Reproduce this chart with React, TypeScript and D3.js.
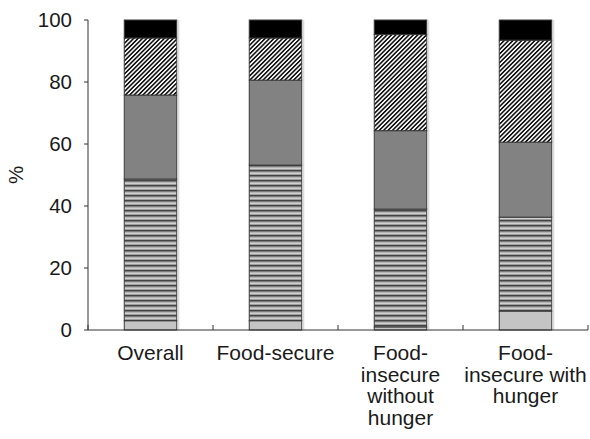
import React from 'react'
import * as d3 from 'd3'

const categories = ['Overall', 'Food-secure', 'Food-insecure without hunger', 'Food-insecure with hunger']
const categoryLines = [['Overall'], ['Food-secure'], ['Food-', 'insecure', 'without', 'hunger'], ['Food-', 'insecure with', 'hunger']]

// segments from bottom to top, in %
const seriesKeys = ['s1', 's2', 's3', 's4', 's5']
const s1 = [3.0, 3.0, 1.0, 6.1]
const s2 = [45.7, 50.2, 38.0, 30.3]
const s3 = [27.1, 27.4, 25.3, 24.2]
const s4 = [18.4, 13.6, 31.0, 32.9]
const s5 = [5.8, 5.8, 4.7, 6.5]
const yTicks = [0, 20, 40, 60, 80, 100]

const fills: Record<string, string> = {
  s1: '#c4c4c4',
  s2: 'url(#hstripes)',
  s3: '#828282',
  s4: 'url(#hatch)',
  s5: '#000000',
}

export default function App() {
  const width = 590
  const height = 439
  const margin = { top: 20, right: 2, bottom: 109, left: 88 }

  const rows = categories.map((c, i) => ({
    cat: c,
    s1: s1[i], s2: s2[i], s3: s3[i], s4: s4[i], s5: s5[i],
  }))
  const stacked = d3.stack<any>().keys(seriesKeys)(rows)

  const x = d3.scaleBand().domain(categories).range([margin.left, width - margin.right]).padding(0)
  const y = d3.scaleLinear().domain([0, 100]).range([height - margin.bottom, margin.top])
  const barW = x.step() * 0.42
  const y0 = y(0)

  const boundaries = d3.range(categories.length + 1).map((i) => margin.left + i * x.step())

  return (
    <svg width={width} height={height} style={{ position: 'absolute', left: 0, top: 0, background: '#fff' }}
      fontFamily="'Liberation Sans', Arial, sans-serif">
      <defs>
        <pattern id="hstripes" patternUnits="userSpaceOnUse" width="8" height="5">
          <rect width="8" height="5" fill="#9e9e9e" />
          <rect y="0" width="8" height="1.4" fill="#444444" />
          <rect y="2.7" width="8" height="1" fill="#e6e6e6" />
        </pattern>
        <pattern id="hatch" patternUnits="userSpaceOnUse" width="3.1" height="8" patternTransform="rotate(45)">
          <rect width="3.1" height="8" fill="#ffffff" />
          <rect x="0" width="1.6" height="8" fill="#111111" />
        </pattern>
      </defs>

      {stacked.map((layer) => (
        <g key={layer.key}>
          {layer.map((d, i) => {
            const cx = (x(categories[i]) as number) + x.step() / 2
            return (
              <rect key={i} x={cx - barW / 2} y={y(d[1])} width={barW} height={y(d[0]) - y(d[1])}
                fill={fills[layer.key]} stroke="#3a3a3a" strokeWidth={1} />
            )
          })}
        </g>
      ))}

      {/* faint shadow line right of bars */}
      {categories.map((c) => {
        const cx = (x(c) as number) + x.step() / 2
        return <line key={c} x1={cx + barW / 2 + 2} x2={cx + barW / 2 + 2} y1={y(100)} y2={y0}
          stroke="#d0d0d0" strokeWidth={1} />
      })}

      {/* axes */}
      <line x1={margin.left} x2={margin.left} y1={y(100)} y2={y0} stroke="#333" strokeWidth={1} />
      <line x1={margin.left} x2={width - margin.right} y1={y0} y2={y0} stroke="#333" strokeWidth={1} />
      {yTicks.map((t) => (
        <g key={t}>
          <line x1={margin.left - 4} x2={margin.left} y1={y(t)} y2={y(t)} stroke="#333" />
          <text x={margin.left - 16} y={y(t)} dy="0.36em" textAnchor="end" fontSize={20.5} fill="#1a1a1a">{t}</text>
        </g>
      ))}
      {boundaries.map((b, i) => (
        <line key={i} x1={b} x2={b} y1={y0} y2={y0 - 5} stroke="#333" />
      ))}
      {categories.map((c, i) => {
        const cx = (x(c) as number) + x.step() / 2
        return (
          <text key={c} x={cx} y={360} textAnchor="middle" fontSize={21} fill="#1a1a1a">
            {categoryLines[i].map((ln, j) => (
              <tspan key={j} x={cx} dy={j === 0 ? 0 : 21.5}>{ln}</tspan>
            ))}
          </text>
        )
      })}
      <text transform={`translate(23,${175}) rotate(-90)`} textAnchor="middle" fontSize={20.5} fill="#1a1a1a">%</text>
    </svg>
  )
}
